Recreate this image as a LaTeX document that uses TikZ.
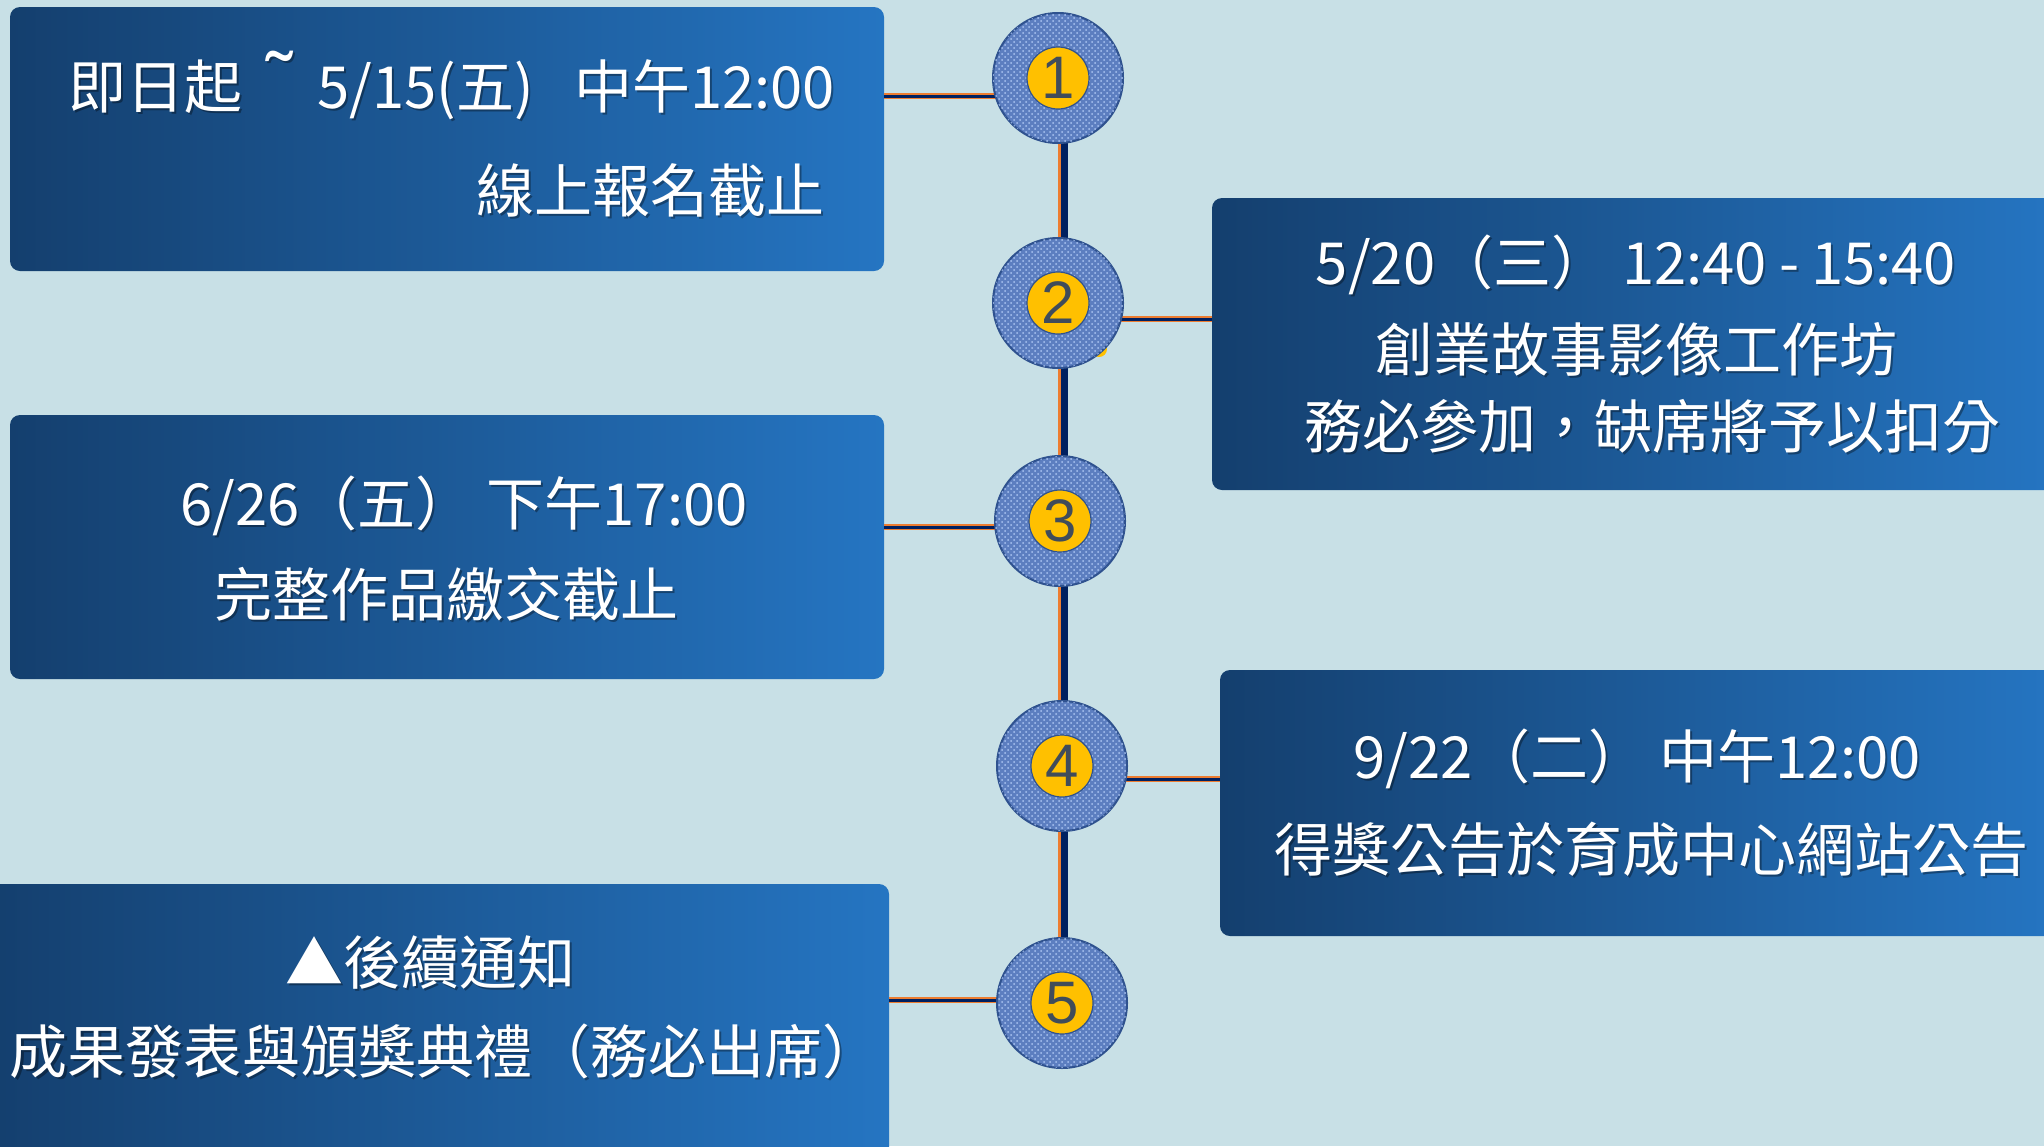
\documentclass[tikz,border=0pt]{standalone}
\usepackage{fontspec}
\setmainfont{Liberation Sans}
\newfontfamily\cjk{Noto Sans CJK TC}
\newfontfamily\tildefont{Liberation Sans}
\usetikzlibrary{patterns}
\definecolor{bg}{RGB}{200,224,230}
\definecolor{boxL}{RGB}{20,63,110}
\definecolor{boxR}{RGB}{37,117,194}
\definecolor{navy}{RGB}{0,32,96}
\definecolor{orng}{RGB}{237,125,49}
\definecolor{yel}{RGB}{255,192,0}
\definecolor{disc}{RGB}{92,126,192}
\definecolor{discedge}{RGB}{47,82,143}
\definecolor{numc}{RGB}{64,76,90}
\definecolor{weave}{RGB}{170,196,242}
\tikzset{
  panel/.style={rounded corners=5pt, left color=boxL, right color=boxR, draw=none, inner sep=0pt},
  ltxt/.style={text=white, font=\cjk\fontsize{29}{34}\selectfont, inner sep=0pt, text height=25.5pt, text depth=3.5pt},
  ltxtsh/.style={ltxt, text=black, opacity=0.35},
  disk/.style={circle, minimum size=65pt, inner sep=0pt, fill=disc, draw=discedge, line width=1pt,
               postaction={pattern=crosshatch dots, pattern color=weave}},
  numdot/.style={circle, minimum size=31pt, inner sep=0pt, fill=yel, draw=discedge, line width=0.6pt,
               text=numc, font=\fontsize{30}{30}\selectfont},
  hout/.style={draw=orng, line width=3pt},
  hin/.style={draw=navy, line width=1.5pt},
  vout/.style={draw=orng, line width=4.5pt},
  vin/.style={draw=navy, line width=3.5pt},
}
\newcommand\sline[3]{%
  \node[ltxtsh] (#1s) at ([shift={(2,2)}]#2) {#3};
  \node[ltxt] (#1) at (#2) {#3};}
\newcommand\bigtilde{{\tildefont\fontsize{40}{40}\selectfont ˜}}
\begin{document}
\begin{tikzpicture}[x=0.5pt,y=-0.5pt]
\useasboundingbox (0,0) rectangle (2044,1146);
\fill[bg] (0,0) rectangle (2044,1146);
\clip (0,0) rectangle (2044,1146);

% panels
\node[panel, minimum width=437pt, minimum height=132pt] (b1) at (447,139) {};
\node[panel, minimum width=424pt, minimum height=146pt] (b2) at (1636,344) {};
\node[panel, minimum width=437pt, minimum height=132pt] (b3) at (447,547) {};
\node[panel, minimum width=420pt, minimum height=133pt] (b4) at (1640,803) {};
\node[panel, minimum width=449.5pt, minimum height=138pt] (b5) at (439.5,1022) {};

% circle centres
\coordinate (k1) at (1058,78);
\coordinate (k2) at (1058,303);
\coordinate (k3) at (1060,521);
\coordinate (k4) at (1062,766);
\coordinate (k5) at (1062,1003);

% connectors
\coordinate (h1) at (884,96);
\coordinate (h2) at (1212,319);
\coordinate (h3) at (884,527);
\coordinate (h4) at (1220,779);
\coordinate (h5) at (889,1000);
\foreach \s in {hout,hin}{
  \draw[\s] (h1) -- (h1 -| k1);
  \draw[\s] (k2 |- h2) -- (h2);
  \draw[\s] (h3) -- (h3 -| k3);
  \draw[\s] (k4 |- h4) -- (h4);
  \draw[\s] (h5) -- (h5 -| k5);
}
\coordinate (vt) at (1063,78);
\coordinate (vb) at (1063,1003);
\draw[vout] ([xshift=-0.5pt]vt) -- ([xshift=-0.5pt]vb);
\draw[vin] ([xshift=0.5pt]vt) -- ([xshift=0.5pt]vb);

% small yellow sliver behind disk 2
\fill[yel] (1099,349) circle (8);

% disks
\node[disk] (c1) at (k1) {};
\node[disk] (c2) at (k2) {};
\node[disk] (c3) at (k3) {};
\node[disk] (c4) at (k4) {};
\node[disk] (c5) at (k5) {};
\node[numdot] (n1) at (c1) {1};
\node[numdot] (n2) at (c2) {2};
\node[numdot] (n3) at (c3) {3};
\node[numdot] (n4) at (c4) {4};
\node[numdot] (n5) at (c5) {5};

% texts
\sline{t1a}{452,86}{即日起\hspace{12pt}\bigtilde\hspace{12pt}5/15(五)\hspace{20pt}中午12:00}
\sline{t1b}{650,190}{線上報名截止}
\sline{t2a}{1636,262}{5/20（三） 12:40\hspace{6pt}-\hspace{6pt}15:40}
\sline{t2b}{1636,349}{創業故事影像工作坊}
\sline{t2c}{1652,426}{務必參加，缺席將予以扣分}
\sline{t3a}{464,503}{6/26（五） 下午17:00}
\sline{t3b}{446,594}{完整作品繳交截止}
\sline{t4a}{1637,756}{9/22（二） 中午12:00}
\sline{t4b}{1651,849}{得獎公告於育成中心網站公告}
\sline{t5a}{430,962}{▲後續通知}
\sline{t5b}{445,1051}{成果發表與頒獎典禮（務必出席）}
\end{tikzpicture}
\end{document}
